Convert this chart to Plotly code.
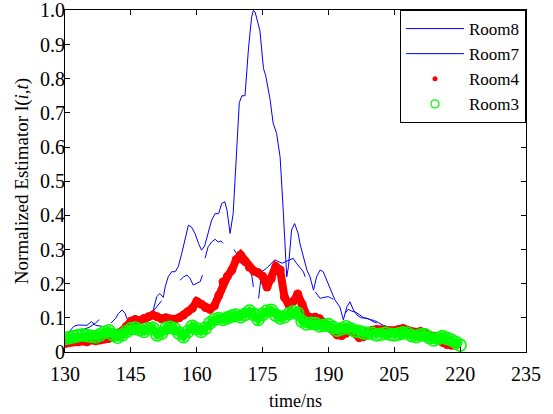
import plotly.graph_objects as go

# ---------------- data ----------------
# Room8 (blue, high peak) – drawn in broken segments (None = gap)
room8_t = [130, 131, 132, 133, 134, 135, 136, 137, 138, 139, None,
           140.5, 141.5, 142.2, 143, 143.7, 144.1, 145.3, 146.5, None,
           148.5, 149.3, 150.1, 150.9, 151.6, 152.4, 152.8, 153.5, 154.3, 155.1, 155.8, 156.6,
           157.3, 158.1, 158.8, 159.6, 160.4, 161.1, 161.8, 162.6, 163.4, 164.2, 165, 165.7,
           166.4, 166.9, 167.6, 168.3, 168.7, 169.1, 169.7, 170.3, 171, 171.8, 172.5, 172.9,
           173.3, 173.7, 174.4, 175.2, 175.7, 176.7, 177.4, 178.2, 179, 179.7, 180.1, 180.5,
           180.9, 181.6, 182.3, 183.1, 183.5, 184.3, 185.1, 185.8, 186.6, 187.3, 188.1, 188.8,
           189.6, 190.4, 191.5, 192.6, 193.4, 194.2, 194.9, 195.7, 196.5, 197.5, 198.3, 199.5,
           200.5, 201.5, 202.5, 203.5]
room8_v = [0.045, 0.06, 0.075, 0.079, 0.079, 0.078, 0.089, 0.078, 0.076, 0.074, None,
           0.085, 0.098, 0.113, 0.123, 0.113, 0.098, 0.089, 0.084, None,
           0.08, 0.10, 0.123, 0.162, 0.171, 0.16, 0.19, 0.22, 0.235, 0.235, 0.25, 0.289,
           0.327, 0.371, 0.366, 0.347, 0.318, 0.298, 0.31, 0.347, 0.386, 0.405, 0.405, 0.435,
           0.44, 0.415, 0.347, 0.405, 0.50, 0.61, 0.73, 0.75, 0.75, 0.89, 0.98, 1.0,
           0.995, 0.975, 0.94, 0.83, 0.81, 0.74, 0.67, 0.64, 0.57, 0.415, 0.318, 0.22,
           0.25, 0.357, 0.376, 0.347, 0.318, 0.279, 0.24, 0.22, 0.181, 0.22, 0.24, 0.235,
           0.21, 0.181, 0.152, 0.132, 0.094, 0.132, 0.147, 0.123, 0.108, 0.10, 0.10, 0.095,
           0.092, 0.085, 0.078, 0.074]

# Room7 (blue, lower) – broken segments
room7_t = [133.5, 134.5, 135.5, 136.2, 137, 137.8, None,
           140, 141.5, 143, 144.5, 146, 147.5, 148.5, 149.5, 150.5, 151.3, 152, None,
           156.2, 157, 157.8, 158.5, 159.2, 160, 160.8, 161.3, None,
           161.9, 162.6, 163.4, 164.2, 164.9, 165.5, 166, None,
           168.5, 169.2, 170, 171, 172, 172.6, 172.9, None,
           174.1, 174.8, 175.9, 177, 177.8, 178.5, 179.5, 180.3, 181.3, 182, 182.7, 183.4, 184.3, 184.7, None,
           187, 188.1, 189, 190, 190.7, 191.1, None,
           193.8, 194.5, 195.2, 196.1, 197, 198, 199, 200, 201]
room7_v = [0.06, 0.068, 0.072, 0.078, 0.085, 0.095, None,
           0.06, 0.065, 0.07, 0.075, 0.085, 0.095, 0.10, 0.11, 0.125, 0.14, 0.15, None,
           0.21, 0.22, 0.225, 0.215, 0.196, 0.20, 0.206, 0.225, None,
           0.275, 0.308, 0.322, 0.33, 0.322, 0.325, 0.318, None,
           0.30, 0.285, 0.26, 0.255, 0.25, 0.22, 0.19, None,
           0.157, 0.235, 0.245, 0.26, 0.27, 0.265, 0.26, 0.265, 0.27, 0.274, 0.26, 0.25, 0.235, 0.22, None,
           0.176, 0.157, 0.16, 0.162, 0.157, 0.155, None,
           0.113, 0.125, 0.12, 0.117, 0.11, 0.10, 0.098, 0.09, 0.085]

# Room4 (red dots)
room4_t = list(range(130, 220))
room4_v = [0.025, 0.028, 0.03, 0.03, 0.032, 0.03, 0.035, 0.033, 0.035, 0.038,
           0.04, 0.042, 0.05, 0.06, 0.075, 0.09, 0.095, 0.092, 0.098, 0.103,
           0.108, 0.103, 0.097, 0.10, 0.095, 0.096, 0.10, 0.108, 0.118, 0.128,
           0.148, 0.14, 0.13, 0.125, 0.135, 0.165, 0.205, 0.222, 0.24, 0.27,
           0.284, 0.265, 0.248, 0.237, 0.232, 0.222, 0.19, 0.215, 0.25, 0.24,
           0.16, 0.138, 0.148, 0.17, 0.14, 0.108, 0.10, 0.102, 0.097, 0.085,
           0.075, 0.064, 0.05, 0.048, 0.055, 0.062, 0.055, 0.042, 0.045, 0.058,
           0.064, 0.066, 0.065, 0.064, 0.062, 0.062, 0.066, 0.069, 0.064, 0.058,
           0.058, 0.06, 0.056, 0.05, 0.046, 0.038, 0.028, 0.022, 0.02, 0.02]

# Room3 (green open circles)
room3_t = list(range(130, 221))
room3_v = [0.04, 0.042, 0.045, 0.048, 0.05, 0.048, 0.046, 0.045, 0.05, 0.058,
           0.062, 0.05, 0.043, 0.05, 0.06, 0.068, 0.07, 0.065, 0.06, 0.068,
           0.07, 0.05, 0.055, 0.07, 0.072, 0.068, 0.055, 0.045, 0.06, 0.075,
           0.068, 0.06, 0.07, 0.085, 0.095, 0.098, 0.095, 0.10, 0.105, 0.108,
           0.103, 0.11, 0.12, 0.11, 0.095, 0.11, 0.12, 0.122, 0.108, 0.10,
           0.103, 0.112, 0.118, 0.113, 0.09, 0.082, 0.084, 0.083, 0.076, 0.078,
           0.08, 0.072, 0.064, 0.068, 0.074, 0.068, 0.062, 0.06, 0.056, 0.055,
           0.055, 0.05, 0.052, 0.055, 0.052, 0.05, 0.053, 0.056, 0.055, 0.048,
           0.045, 0.05, 0.05, 0.042, 0.035, 0.04, 0.045, 0.04, 0.035, 0.028,
           0.02]

x_ticks = [130, 145, 160, 175, 190, 205, 220, 235]
y_ticks = [0, 0.1, 0.2, 0.3, 0.4, 0.5, 0.6, 0.7, 0.8, 0.9, 1.0]
y_ticktext = ["0", "0.1", "0.2", "0.3", "0.4", "0.5", "0.6", "0.7", "0.8", "0.9", "1.0"]

# ---------------- figure ----------------
FONT = "Times New Roman, Liberation Serif, serif"
BLUE = "#0000ff"
RED = "#ff0000"
GREEN = "#00ff00"
fig = go.Figure()

# data traces (legend entries are drawn by the small legend-only traces below)
fig.add_trace(go.Scatter(x=room8_t, y=room8_v, mode="lines", name="Room8", showlegend=False,
                         line=dict(color=BLUE, width=1), connectgaps=False))
fig.add_trace(go.Scatter(x=room7_t, y=room7_v, mode="lines", name="Room7", showlegend=False,
                         line=dict(color=BLUE, width=1), connectgaps=False))
fig.add_trace(go.Scatter(x=room4_t, y=room4_v, mode="lines", showlegend=False,
                         hoverinfo="skip", line=dict(color=RED, width=8)))
fig.add_trace(go.Scatter(x=room4_t, y=room4_v, mode="markers", name="Room4", showlegend=False,
                         marker=dict(color=RED, size=9, line=dict(width=0))))
fig.add_trace(go.Scatter(x=room3_t, y=room3_v, mode="lines", showlegend=False,
                         hoverinfo="skip", line=dict(color=GREEN, width=8)))
fig.add_trace(go.Scatter(x=room3_t, y=room3_v, mode="markers", name="Room3", showlegend=False,
                         marker=dict(symbol="circle-open", color=GREEN, size=12,
                                     line=dict(width=1.6, color=GREEN))))

# legend-only entries with the reference's small symbols
fig.add_trace(go.Scatter(x=[None], y=[None], mode="lines", name="Room8",
                         line=dict(color=BLUE, width=1)))
fig.add_trace(go.Scatter(x=[None], y=[None], mode="lines", name="Room7",
                         line=dict(color=BLUE, width=1)))
fig.add_trace(go.Scatter(x=[None], y=[None], mode="markers", name="Room4",
                         marker=dict(color=RED, size=5, line=dict(width=0))))
fig.add_trace(go.Scatter(x=[None], y=[None], mode="markers", name="Room3",
                         marker=dict(symbol="circle-open", color=GREEN, size=8,
                                     line=dict(width=1.3, color=GREEN))))

axis_common = dict(
    showline=True, linecolor="black", linewidth=1, mirror="ticks",
    ticks="inside", ticklen=5, tickcolor="black", tickwidth=1,
    showgrid=False, zeroline=False, automargin=False, ticklabeloverflow="allow",
    tickfont=dict(family=FONT, size=20, color="black"),
)

fig.update_xaxes(range=[130, 235], tickvals=x_ticks, ticklabelstandoff=4,
                 title=dict(text="time/ns", font=dict(family=FONT, size=18, color="black"), standoff=10),
                 **axis_common)
fig.update_yaxes(range=[0, 1.001], tickvals=y_ticks, ticktext=y_ticktext, ticklabelstandoff=-5,
                 title=dict(text="Normalized Estimator l(<i>i</i>,<i>t</i>)",
                            font=dict(family=FONT, size=19, color="black"), standoff=6),
                 **axis_common)

fig.update_layout(
    width=553, height=414,
    margin=dict(l=65, r=27, t=10, b=62),
    plot_bgcolor="white", paper_bgcolor="white",
    legend=dict(x=1, y=1, xanchor="right", yanchor="top",
                bordercolor="black", borderwidth=1, bgcolor="white",
                font=dict(family=FONT, size=17, color="black"),
                tracegroupgap=0, itemwidth=58),
    showlegend=True,
)

fig.write_html("out.html")
